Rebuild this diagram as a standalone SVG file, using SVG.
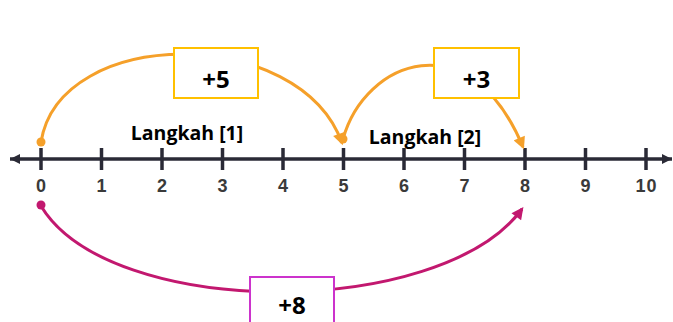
<svg xmlns="http://www.w3.org/2000/svg" width="673" height="322" viewBox="0 0 673 322">
<style>
.axis{stroke:#2a2a36;stroke-width:3.5;fill:none}
.tick{stroke:#2a2a36;stroke-width:3.5}
.num{font-family:"Liberation Sans",Arial,sans-serif;font-size:18px;font-weight:bold;fill:#3a3a3a;text-anchor:middle;letter-spacing:1px}
.step{font-family:"Open Sans","Liberation Sans",Arial,sans-serif;font-size:19.5px;font-weight:bold;fill:#000}
.jump{font-family:"Open Sans","Liberation Sans",Arial,sans-serif;font-size:24px;font-weight:bold;fill:#000;text-anchor:middle}
.orange{stroke:#f5a02a;stroke-width:3;fill:none}
.magenta{stroke:#c2186f;stroke-width:3;fill:none}
.box-o{fill:#fff;stroke:#ffc000;stroke-width:2}
.box-m{fill:#fff;stroke:#cc33cc;stroke-width:2}
</style>
<defs>
<marker id="arrO" viewBox="0 0 10 10" refX="8" refY="5" markerWidth="4.5" markerHeight="4" orient="auto" markerUnits="strokeWidth"><path d="M0,0 L10,5 L0,10 Z" fill="#f5a02a"/></marker>
<marker id="arrM" viewBox="0 0 10 10" refX="8" refY="5" markerWidth="4.5" markerHeight="4" orient="auto" markerUnits="strokeWidth"><path d="M0,0 L10,5 L0,10 Z" fill="#c2186f"/></marker>
<marker id="axL" viewBox="0 0 10 10" refX="0" refY="5" markerWidth="10" markerHeight="10" orient="auto" markerUnits="userSpaceOnUse"><path d="M10,0 L0,5 L10,10 Z" fill="#2a2a36"/></marker>
<marker id="axR" viewBox="0 0 10 10" refX="10" refY="5" markerWidth="10" markerHeight="10" orient="auto" markerUnits="userSpaceOnUse"><path d="M0,0 L10,5 L0,10 Z" fill="#2a2a36"/></marker>
</defs>
<g id="number-line">
<line class="axis" x1="10" y1="159" x2="672" y2="159" marker-start="url(#axL)" marker-end="url(#axR)"/>
<g class="tick">
<line x1="41" y1="148" x2="41" y2="170"/>
<line x1="101.5" y1="148" x2="101.5" y2="170"/>
<line x1="162" y1="148" x2="162" y2="170"/>
<line x1="222.5" y1="148" x2="222.5" y2="170"/>
<line x1="283" y1="148" x2="283" y2="170"/>
<line x1="343.5" y1="148" x2="343.5" y2="170"/>
<line x1="404" y1="148" x2="404" y2="170"/>
<line x1="464.5" y1="148" x2="464.5" y2="170"/>
<line x1="525" y1="148" x2="525" y2="170"/>
<line x1="585.5" y1="148" x2="585.5" y2="170"/>
<line x1="646" y1="148" x2="646" y2="170"/>
</g>
<g>
<text class="num" x="41.5" y="192">0</text>
<text class="num" x="102" y="192">1</text>
<text class="num" x="162.5" y="192">2</text>
<text class="num" x="223" y="192">3</text>
<text class="num" x="283.5" y="192">4</text>
<text class="num" x="344" y="192">5</text>
<text class="num" x="404.5" y="192">6</text>
<text class="num" x="465" y="192">7</text>
<text class="num" x="525.5" y="192">8</text>
<text class="num" x="586" y="192">9</text>
<text class="num" x="646.5" y="192">10</text>
</g>
</g>
<g id="connectors">
<path class="orange" d="M41,142 C60,25 300,25 342,143" marker-end="url(#arrO)"/>
<circle cx="41" cy="142" r="4.5" fill="#f5a02a"/>
<circle cx="343" cy="139" r="4.5" fill="#f5a02a"/>
<path class="orange" d="M343,139 C365,60 470,20 523,147" marker-end="url(#arrO)"/>
<path class="magenta" d="M41,206 C110,320 440,320 522,209" marker-end="url(#arrM)"/>
<circle cx="41" cy="205" r="4.5" fill="#c2186f"/>
</g>
<g id="label-step1"><text class="step" x="187" y="140" text-anchor="middle">Langkah [1]</text></g>
<g id="label-step2"><text class="step" x="425" y="144" text-anchor="middle">Langkah [2]</text></g>
<g id="box-plus5"><rect class="box-o" x="174" y="48" width="84" height="50"/><text class="jump" x="216" y="88">+5</text></g>
<g id="box-plus3"><rect class="box-o" x="434" y="48" width="85" height="50"/><text class="jump" x="476.5" y="88">+3</text></g>
<g id="box-plus8"><rect class="box-m" x="250" y="277" width="84" height="50"/><text class="jump" x="292" y="314">+8</text></g>
</svg>
